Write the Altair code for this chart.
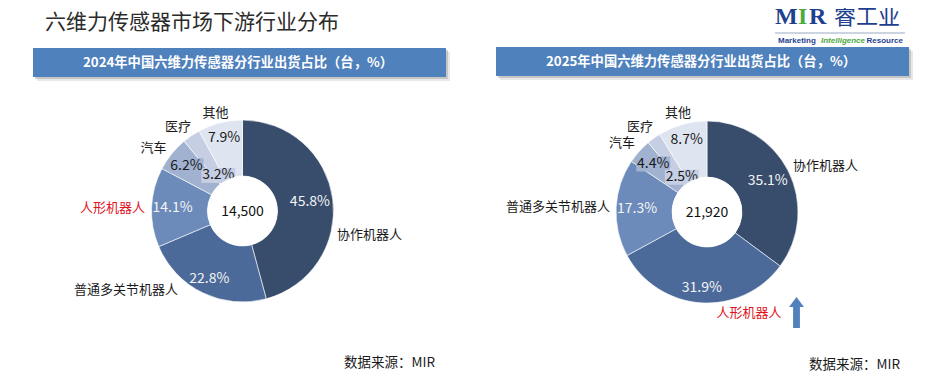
import math
import altair as alt
import pandas as pd

OFF = 8  # page margin of the html page
FONT = "Noto Sans CJK SC"

# ---------------- data ----------------
categories_2024 = ["协作机器人", "普通多关节机器人", "人形机器人", "汽车", "医疗", "其他"]
shares_2024 = [45.8, 22.8, 14.1, 6.2, 3.2, 7.9]
total_2024 = "14,500"

categories_2025 = ["协作机器人", "人形机器人", "普通多关节机器人", "汽车", "医疗", "其他"]
shares_2025 = [35.1, 31.9, 17.3, 4.4, 2.5, 8.7]
total_2025 = "21,920"

title_text = "六维力传感器市场下游行业分布"
header_2024 = "2024年中国六维力传感器分行业出货占比（台，%）"
header_2025 = "2025年中国六维力传感器分行业出货占比（台，%）"
source_text = "数据来源：MIR"

# ---------------- styles / layout ----------------
palette = ["#384C6C", "#4B6A9A", "#6C8BBA", "#A1B1D0", "#C5CEE2", "#DFE5F0"]
pct_colors = ["#F4F4F4", "#F4F4F4", "#F4F4F4", "#1A1A1A", "#1A1A1A", "#1A1A1A"]
pct_radius = [68, 76, 70, 72, 43, 75]
boxed = [3, 4]
RED = "#E0141E"
BLUE = "#4F81BD"
LOGO_BLUE = "#1F3F8F"
LOGO_GREEN = "#4DA944"
OUTER_R, INNER_R = 91, 35
CAT_R = 100

layout_2024 = dict(cx=242.5, cy=211,
                   nudge=[(-4.6, 37.2), (-20.8, -10.9), (2.4, 1.1), (-11.2, -0.2), (-8.3, -1.3), (-2.4, -1.1)],
                   align=["left", "right", "right", "center", "center", "center"])
layout_2025 = dict(cx=707, cy=212,
                   nudge=[(-3.3, -1.0), (48.9, 1.2), (2.9, -0.4), (-10.4, -2.5), (-8.4, -4.0), (-2.0, -2.7)],
                   align=["left", "center", "right", "center", "center", "center"])

XS = dict(scale=None, axis=None)


def px(v):
    return v - OFF


def donut(cats, shares, total, lay):
    cx, cy = lay["cx"], lay["cy"]
    tot = sum(shares)
    rows = []
    cum = 0.0
    for i, (c, v) in enumerate(zip(cats, shares)):
        mid = (cum + v / 2) / tot * 2 * math.pi
        cum += v
        s, co = math.sin(mid), math.cos(mid)
        r = pct_radius[i]
        dx, dy = lay["nudge"][i]
        rows.append(dict(
            idx=i, cat=c, v=v, color=palette[i],
            pct=f"{v:.1f}%", pct_color=pct_colors[i],
            px=px(cx + r * s), py=px(cy - r * co),
            lx=px(cx + CAT_R * s + dx), ly=px(cy - CAT_R * co + dy),
            lcolor=RED if c == "人形机器人" else "#1A1A1A",
            align=lay["align"][i],
        ))
    df = pd.DataFrame(rows)
    layers = []
    layers.append(
        alt.Chart(df).mark_arc(outerRadius=OUTER_R, innerRadius=INNER_R,
                               stroke="#FFFFFF", strokeWidth=0.6).encode(
            theta=alt.Theta("v:Q", stack=True),
            order=alt.Order("idx:Q"),
            color=alt.Color("color:N", scale=None),
            x=alt.value(px(cx)), y=alt.value(px(cy)),
        )
    )
    box_df = df[df["idx"].isin(boxed)]
    layers.append(
        alt.Chart(box_df).mark_point(shape="M-1,-0.44H1V0.44H-1Z", filled=True, opacity=1,
                                     size=34 * 34, strokeWidth=0).encode(
            x=alt.X("px:Q", **XS), y=alt.Y("py:Q", **XS),
            color=alt.Color("color:N", scale=None),
        )
    )
    layers.append(
        alt.Chart(df).mark_text(font=FONT, fontSize=14, baseline="middle").encode(
            x=alt.X("px:Q", **XS), y=alt.Y("py:Q", **XS),
            text="pct:N", color=alt.Color("pct_color:N", scale=None),
        )
    )
    # white hole drawn on top, as in the reference (it covers label edges)
    layers.append(
        alt.Chart(pd.DataFrame({"v": [1]})).mark_arc(outerRadius=INNER_R, color="#FFFFFF").encode(
            theta=alt.Theta("v:Q"), x=alt.value(px(cx)), y=alt.value(px(cy)))
    )
    for al in ["left", "center", "right"]:
        sub = df[df["align"] == al]
        if len(sub) == 0:
            continue
        layers.append(
            alt.Chart(sub).mark_text(font=FONT, fontSize=13, align=al, baseline="middle").encode(
                x=alt.X("lx:Q", **XS), y=alt.Y("ly:Q", **XS),
                text="cat:N", color=alt.Color("lcolor:N", scale=None),
            )
        )
    layers.append(
        alt.Chart(pd.DataFrame({"t": [total]})).mark_text(
            font=FONT, fontSize=14, baseline="middle", color="#111111").encode(
            x=alt.value(px(cx)), y=alt.value(px(cy + 1)), text="t:N")
    )
    return layers


def rects(rows, **mk):
    df = pd.DataFrame([dict(x=px(a), x2=px(b), y=px(c), y2=px(d)) for a, b, c, d in rows])
    return alt.Chart(df).mark_rect(**mk).encode(
        x=alt.X("x:Q", **XS), x2="x2:Q", y=alt.Y("y:Q", **XS), y2="y2:Q")


def texts(rows, **mk):
    df = pd.DataFrame([dict(x=px(a), y=px(b), t=t) for a, b, t in rows])
    return alt.Chart(df).mark_text(**mk).encode(
        x=alt.X("x:Q", **XS), y=alt.Y("y:Q", **XS), text="t:N")


bars = [(33, 446, 48, 77), (496, 909, 47, 76)]
layers = []
# header bars with soft shadow
layers.append(rects([(a + 4, b + 4, c + 4, d + 4) for a, b, c, d in bars], color="#BDBDBD", opacity=0.35))
layers.append(rects([(a + 2, b + 2, c + 2, d + 2) for a, b, c, d in bars], color="#9E9E9E", opacity=0.45))
layers.append(rects(bars, color=BLUE))
layers.append(texts([(238, 63, header_2024), (701, 62, header_2025)],
                    font=FONT, fontSize=13.3, fontWeight="bold", color="#FFFFFF",
                    align="center", baseline="middle"))
# page title
layers.append(texts([(45, 23, title_text)], font=FONT, fontSize=21, color="#2B2B2B",
                    align="left", baseline="middle"))
# logo (shifted slightly down so it stays inside the drawable area)
layers.append(texts([(775, 24, "M"), (809, 24, "R")], font="Liberation Serif", fontSize=24,
                    fontWeight="bold", color=LOGO_BLUE, align="left", baseline="alphabetic"))
layers.append(texts([(798, 24, "I")], font="Liberation Serif", fontSize=24,
                    fontWeight="bold", color=LOGO_GREEN, align="left", baseline="alphabetic"))
layers.append(texts([(867, 17, "睿工业")], font=FONT, fontSize=22, color=LOGO_BLUE,
                    align="center", baseline="middle"))
layers.append(rects([(775, 905, 32.5, 33.5)], color="#9AA8C4"))
layers.append(texts([(778, 40.5, "Marketing")], font="Liberation Sans",
                    fontSize=8, fontWeight="bold", color=LOGO_BLUE, align="left", baseline="middle"))
layers.append(texts([(903, 40.5, "Resource")], font="Liberation Sans",
                    fontSize=8, fontWeight="bold", color=LOGO_BLUE, align="right", baseline="middle"))
layers.append(texts([(843, 40.5, "Intelligence")], font="Liberation Sans", fontSize=8,
                    fontWeight="bold", fontStyle="italic", color=LOGO_GREEN,
                    align="center", baseline="middle"))
# donuts
layers += donut(categories_2024, shares_2024, total_2024, layout_2024)
layers += donut(categories_2025, shares_2025, total_2025, layout_2025)
# arrow next to 人形机器人 (2025)
arrow_df = pd.DataFrame({"x": [px(796.5)], "y": [px(312.5)]})
layers.append(
    alt.Chart(arrow_df).mark_point(
        shape="M0,-1L0.48,-0.35L0.22,-0.35L0.22,1L-0.22,1L-0.22,-0.35L-0.48,-0.35Z",
        filled=True, opacity=1, size=31 * 31, color=BLUE, strokeWidth=0).encode(
        x=alt.X("x:Q", **XS), y=alt.Y("y:Q", **XS))
)
# sources
layers.append(texts([(344, 363, source_text), (809, 365, source_text)], font=FONT, fontSize=13.5,
                    color="#1A1A1A", align="left", baseline="middle"))

chart = alt.layer(*layers).properties(
    width=913, height=363, padding=0, autosize="none"
).resolve_scale(theta="independent").configure_view(stroke=None)

chart.save("out.html", embed_options={"renderer": "svg", "actions": False})
